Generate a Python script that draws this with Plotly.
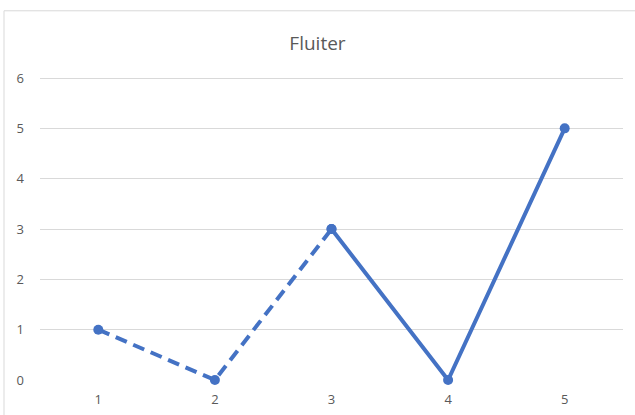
import plotly.graph_objects as go

categories = ["1", "2", "3", "4", "5"]
values = [1, 0, 3, 0, 5]
y_ticks = [0, 1, 2, 3, 4, 5, 6]
title = "Fluiter"

color = "#4472C4"
fig = go.Figure()
# dashed part (first three points)
fig.add_trace(go.Scatter(
    x=categories[:3], y=values[:3], mode="lines+markers", cliponaxis=False,
    line=dict(color=color, width=4, dash="12px,7px"),
    marker=dict(color=color, size=10), showlegend=False, hoverinfo="skip"))
# solid part (last three points)
fig.add_trace(go.Scatter(
    x=categories[2:], y=values[2:], mode="lines+markers", cliponaxis=False,
    line=dict(color=color, width=4),
    marker=dict(color=color, size=10), showlegend=False, hoverinfo="skip"))

L, R, T, B = 40, 623, 78, 380
fig.update_layout(
    width=635, height=415,
    margin=dict(l=L, r=635 - R, t=T - 1, b=415 - B),
    paper_bgcolor="white", plot_bgcolor="white",
    title=dict(text=title, x=0.5, xanchor="center", y=1 - 43 / 415, yanchor="middle",
               font=dict(family="Open Sans, sans-serif", size=19, color="#595959")),
    font=dict(family="Open Sans, sans-serif", size=13, color="#595959"),
    xaxis=dict(type="category", range=[-0.5, 4.5], showgrid=False, zeroline=False,
               showline=False, ticks="", ticklabelstandoff=10, automargin=False,
               tickfont=dict(size=13, color="#595959")),
    yaxis=dict(range=[0, 6.02], tickvals=y_ticks, showgrid=True, gridcolor="#D9D9D9",
               gridwidth=1, zeroline=False, showline=False, ticks="", automargin=False,
               ticklabelstandoff=15, tickfont=dict(size=13, color="#595959")),
    shapes=[dict(type="rect", xref="paper", yref="paper",
                 x0=(4 - L) / (R - L), x1=(645 - L) / (R - L),
                 y0=(B - 425) / (B - T), y1=(B - 12) / (B - T),
                 line=dict(color="#D9D9D9", width=1), fillcolor="rgba(0,0,0,0)",
                 layer="below")],
)

fig.write_html("out.html", config={"displayModeBar": False},
               post_script="document.body.style.margin='0';")
